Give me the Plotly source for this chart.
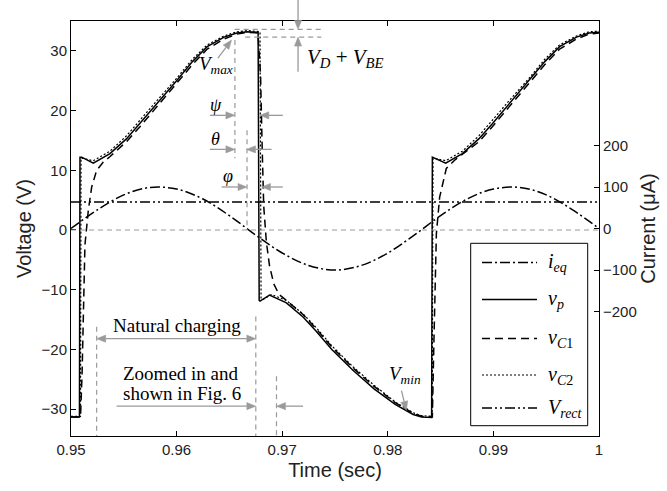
import math
import plotly.graph_objects as go

# ---------------- data ----------------
t_vp = [0.9500, 0.9508, 0.95085, 0.95101, 0.95211, 0.95369, 0.95527, 0.95653, 0.9580, 0.9600,
        0.9615, 0.9629, 0.9645, 0.9657, 0.9667, 0.96772, 0.96782, 0.9679, 0.9688, 0.9704,
        0.9720, 0.9732, 0.9747, 0.9767, 0.9787, 0.9807, 0.9824, 0.9832, 0.98415, 0.98422,
        0.98435, 0.98548, 0.98706, 0.98864, 0.9899, 0.99137, 0.99337, 0.99487, 0.99627,
        0.99787, 0.99907, 1.0000]
v_p = [-31.3, -31.3, 12.2, 12.2, 11.2, 12.8, 15.3, 17.8, 20.9, 25.0,
       28.2, 30.7, 32.3, 33.0, 33.2, 33.1, -11.8, -11.9, -10.9, -12.2,
       -14.6, -16.9, -20.0, -23.5, -26.6, -29.2, -30.9, -31.3, -31.4, 12.2,
       12.1, 11.2, 12.8, 15.3, 17.8, 20.9, 25.0, 28.2, 30.7,
       32.3, 33.0, 33.1]

t_c1 = [0.9500, 0.9509, 0.95105, 0.9512, 0.95132, 0.95164, 0.95196, 0.95243, 0.95306, 0.9537,
        0.95527, 0.95653, 0.9580, 0.9600, 0.9615, 0.9629, 0.9645, 0.9657, 0.9667, 0.9677,
        0.96795, 0.9681, 0.96825, 0.9685, 0.9688, 0.9692, 0.9697, 0.9704, 0.9720, 0.9732,
        0.9747, 0.9767, 0.9787, 0.9807, 0.9824, 0.9832, 0.98422, 0.98435, 0.98453, 0.9846,
        0.98491, 0.98554, 0.9864, 0.98864, 0.9899, 0.99137, 0.99337, 0.99487, 0.99627,
        0.99787, 0.99907, 1.0000]
v_c1 = [-31.3, -31.3, -24.0, -12.0, -2.5, 3.3, 7.2, 10.0, 11.4, 12.3,
        14.8, 17.3, 20.4, 24.5, 27.7, 30.3, 32.0, 32.8, 33.1, 33.0,
        26.0, 14.0, 4.0, -2.0, -6.0, -9.0, -10.8, -11.8, -14.2, -16.5,
        -19.6, -23.1, -26.2, -28.9, -30.7, -31.2, -31.3, -20.0, -5.1, -0.6,
        5.5, 10.3, 11.8, 14.8, 17.3, 20.4, 24.5, 27.7, 30.3,
        32.0, 32.8, 33.0]

t_c2 = [0.9500, 0.9509, 0.95095, 0.95111, 0.95211, 0.95369, 0.95527, 0.95653, 0.9580, 0.9600,
        0.9615, 0.9629, 0.9645, 0.9657, 0.9667, 0.96790, 0.96800, 0.9682, 0.9690, 0.9704,
        0.9720, 0.9732, 0.9747, 0.9767, 0.9787, 0.9807, 0.9824, 0.9832, 0.98420, 0.98428,
        0.98445, 0.98548, 0.98706, 0.98864, 0.9899, 0.99137, 0.99337, 0.99487, 0.99627,
        0.99787, 0.99907, 1.0000]
v_c2 = [-31.2, -31.2, 12.0, 12.0, 11.6, 13.2, 15.8, 18.3, 21.4, 25.4,
        28.6, 31.0, 32.5, 33.2, 33.4, 33.2, -11.5, -11.6, -10.8, -11.8,
        -14.1, -16.3, -19.4, -22.9, -26.0, -28.8, -30.6, -31.1, -31.2, 12.0,
        12.0, 11.6, 13.2, 15.8, 18.3, 21.4, 25.4, 28.6, 31.0,
        32.5, 33.2, 33.3]

t_ieq = [0.9500, 0.9525, 0.9550, 0.9575, 0.9600, 0.9625, 0.9650, 0.9675, 0.9700, 0.9725,
         0.9750, 0.9775, 0.9800, 0.9825, 0.9850, 0.9875, 0.9900, 0.9925, 0.9950, 0.9975, 1.0000]
i_eq = [0, 45, 81, 99, 95, 71, 31, -16, -59, -89,
        -100, -89, -59, -16, 31, 71, 95, 99, 81, 45, 0]

t_rect = [0.95, 1.0]
v_rect = [4.7, 4.7]

x_ticks = [0.95, 0.96, 0.97, 0.98, 0.99, 1.0]
x_tick_text = ["0.95", "0.96", "0.97", "0.98", "0.99", "1"]
y_ticks = [-30, -20, -10, 0, 10, 20, 30]
y2_ticks = [-200, -100, 0, 100, 200]

legend_labels = ["<i>i</i><sub><i>eq</i></sub>", "<i>v</i><sub><i>p</i></sub>",
                 "<i>v</i><sub><i>C</i>1</sub>", "<i>v</i><sub><i>C</i>2</sub>",
                 "<i>V</i><sub><i>rect</i></sub>"]

# ---------------- styling ----------------
LW = 1.5
SERIF = "Liberation Serif, Times New Roman, serif"
SANS = "Liberation Sans, Arial, sans-serif"
GRAY = "#9a9a9a"
TXT = "#222"
X_RANGE = [0.95, 1.0]
Y_RANGE = [-34.5, 35]
PX0, PW, PY1, PH = 71.0, 528.0, 436.0, 415.0   # plot area in page pixels

# annotation geometry is given in data units and mapped to paper units (so nothing is clipped)
def xp(t): return (t - X_RANGE[0]) / (X_RANGE[1] - X_RANGE[0])
def yp(v): return (v - Y_RANGE[0]) / (Y_RANGE[1] - Y_RANGE[0])

styles = [dict(color="black", width=LW, dash="10px,3px,2px,3px"),
          dict(color="black", width=LW),
          dict(color="black", width=LW, dash="8px,5px"),
          dict(color="black", width=1.2, dash="2px,2px"),
          dict(color="black", width=LW, dash="10px,3px,2px,3px,2px,3px")]

fig = go.Figure()
fig.add_trace(go.Scatter(x=t_ieq, y=i_eq, yaxis="y2", mode="lines", line_shape="spline",
                         name=legend_labels[0], line=styles[0], showlegend=False))
fig.add_trace(go.Scatter(x=t_vp, y=v_p, mode="lines", name=legend_labels[1],
                         line=styles[1], showlegend=False))
fig.add_trace(go.Scatter(x=t_c1, y=v_c1, mode="lines", name=legend_labels[2],
                         line=styles[2], showlegend=False))
fig.add_trace(go.Scatter(x=t_c2, y=v_c2, mode="lines", name=legend_labels[3],
                         line=styles[3], showlegend=False))
fig.add_trace(go.Scatter(x=t_rect, y=v_rect, mode="lines", name=legend_labels[4],
                         line=styles[4], showlegend=False))

shapes = []
def dline(x0, y0, x1, y1):
    shapes.append(dict(type="line", xref="paper", yref="paper",
                       x0=xp(x0), y0=yp(y0), x1=xp(x1), y1=yp(y1),
                       line=dict(color=GRAY, width=1.2, dash="5px,4px")))

def head(xt, yt, xs, ys, h=9.0, w=3.6):
    """filled arrow head (paper units) at (xt, yt) pointing away from (xs, ys); returns base"""
    dx, dy = (xt - xs) * PW, (yt - ys) * PH
    L = math.hypot(dx, dy)
    ux, uy = dx / L, dy / L
    bx, by = xt * PW - ux * h, yt * PH - uy * h
    nx, ny = -uy, ux
    p1 = ((bx + nx * w) / PW, (by + ny * w) / PH)
    p2 = ((bx - nx * w) / PW, (by - ny * w) / PH)
    shapes.append(dict(type="path", xref="paper", yref="paper",
                       path=f"M {xt},{yt} L {p1[0]},{p1[1]} L {p2[0]},{p2[1]} Z",
                       fillcolor=GRAY, line=dict(color=GRAY, width=0.5)))
    return bx / PW, by / PH

def arrow(x, y, ax, ay, both=False):
    x, y, ax, ay = xp(x), yp(y), xp(ax), yp(ay)
    ex, ey = head(x, y, ax, ay)
    sx, sy = (head(ax, ay, x, y) if both else (ax, ay))
    shapes.append(dict(type="line", xref="paper", yref="paper", x0=sx, y0=sy, x1=ex, y1=ey,
                       line=dict(color=GRAY, width=1.3)))

ann = []
def label(x, y, text, size=18, xanchor="center"):
    ann.append(dict(x=x, y=y, xref="x", yref="y", text=text, showarrow=False,
                    xanchor=xanchor, yanchor="middle",
                    font=dict(family=SERIF, size=size, color="black")))

# zero reference
dline(0.95, 0, 1.0, 0)
# top V_D+V_BE markers
dline(0.9655, 33.6, 0.9737, 33.6)
dline(0.9665, 32.3, 0.9737, 32.3)
# psi / theta / phi verticals
dline(0.96552, 31.8, 0.96552, 12.0)
dline(0.96667, 16.7, 0.96667, 0.0)
# natural charging / zoomed
dline(0.95243, -16.2, 0.95243, -34.5)
dline(0.96750, -14.5, 0.96750, -34.5)
dline(0.96946, -24.5, 0.96946, -34.5)

# V_D + V_BE
arrow(0.97150, 33.6, 0.97150, 38.6)
arrow(0.97150, 32.3, 0.97150, 26.5)
label(0.97214, 28.8, "<i>V</i><sub><i>D</i></sub> + <i>V</i><sub><i>BE</i></sub>", size=21, xanchor="left")
# V_max
arrow(0.96520, 31.8, 0.96391, 28.8)
label(0.96372, 27.6, "<i>V</i><sub><i>max</i></sub>", size=19)
# psi
arrow(0.96552, 19.2, 0.96315, 19.2)
arrow(0.96788, 19.2, 0.97006, 19.2)
label(0.96369, 21.0, "<i>ψ</i>")
# theta
arrow(0.96552, 13.5, 0.96315, 13.5)
arrow(0.96662, 13.5, 0.96899, 13.5)
label(0.96369, 15.2, "<i>θ</i>")
# phi
arrow(0.96667, 7.2, 0.96426, 7.2)
arrow(0.96804, 7.2, 0.97006, 7.2)
label(0.96488, 9.0, "<i>φ</i>")
# natural charging
arrow(0.96750, -18.2, 0.95243, -18.2, both=True)
label(0.96000, -16.0, "Natural charging", size=19)
# zoomed in
arrow(0.96750, -29.5, 0.95432, -29.5)
arrow(0.96946, -29.5, 0.97198, -29.5)
label(0.95470, -24.0, "Zoomed in and", size=19, xanchor="left")
label(0.95470, -27.4, "shown in Fig. 6", size=19, xanchor="left")
# V_min
arrow(0.98176, -30.2, 0.98129, -26.9)
label(0.98160, -24.2, "<i>V</i><sub><i>min</i></sub>", size=19)

# ---------------- legend (drawn as a framed key) ----------------
def px(x): return (x - PX0) / PW
def py(y): return (PY1 - y) / PH
shapes.append(dict(type="rect", xref="paper", yref="paper",
                   x0=px(470.7), x1=px(587.7), y0=py(425.7), y1=py(243.3),
                   line=dict(color="black", width=1), fillcolor="white", layer="above"))
rows = [262.5, 299.5, 338.5, 375.0, 408.0]
for r, st, lab in zip(rows, styles, legend_labels):
    shapes.append(dict(type="line", xref="paper", yref="paper", x0=px(482), x1=px(537),
                       y0=py(r), y1=py(r), line=st, layer="above"))
    ann.append(dict(x=px(546), y=py(r), xref="paper", yref="paper", text=lab, showarrow=False,
                    xanchor="left", yanchor="middle",
                    font=dict(family=SERIF, size=20, color="black")))

fig.update_layout(
    width=667, height=491,
    margin=dict(l=71, r=68, t=21, b=55),
    paper_bgcolor="white", plot_bgcolor="white",
    showlegend=False,
    shapes=shapes, annotations=ann,
    xaxis=dict(range=X_RANGE, tickvals=x_ticks, ticktext=x_tick_text,
               ticks="inside", ticklen=5, tickcolor="black", showline=True, linecolor="black",
               linewidth=1, mirror="ticks", showgrid=False, zeroline=False,
               tickfont=dict(family=SANS, size=15, color=TXT),
               title=dict(text="Time (sec)", font=dict(family=SANS, size=20, color=TXT), standoff=5)),
    yaxis=dict(range=Y_RANGE, tickvals=y_ticks, ticks="inside", ticklen=5, tickcolor="black",
               showline=True, linecolor="black", linewidth=1, showgrid=False, zeroline=False,
               tickfont=dict(family=SANS, size=15, color=TXT),
               title=dict(text="Voltage (V)", font=dict(family=SANS, size=20, color=TXT), standoff=4)),
    yaxis2=dict(range=[-500, 500], overlaying="y", side="right", tickvals=y2_ticks,
                ticks="inside", ticklen=5, tickcolor="black", showline=True, linecolor="black",
                linewidth=1, showgrid=False, zeroline=False,
                tickfont=dict(family=SANS, size=15, color=TXT),
                title=dict(text="Current (μA)", font=dict(family=SANS, size=20, color=TXT), standoff=4)),
)

fig.write_html("out.html", config={"displayModeBar": False},
               post_script="document.body.style.margin='0';")
